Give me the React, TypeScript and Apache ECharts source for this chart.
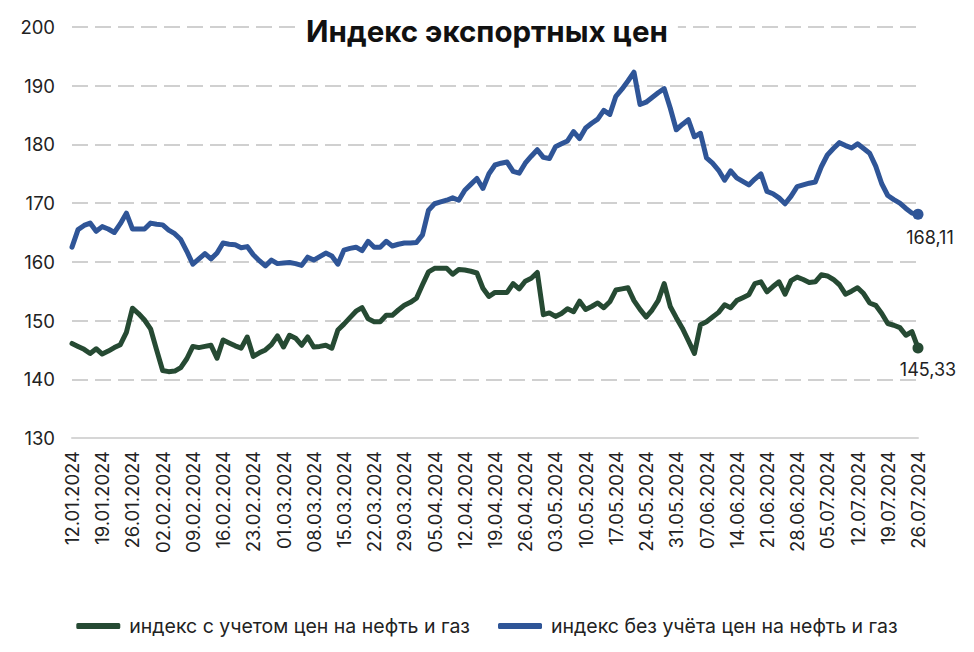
import React, { useEffect, useRef } from "react";
import * as echarts from "echarts";

const START_DATE = "2024-01-12";
const END_DATE = "2024-07-26";

function businessDays(start: string, end: string): string[] {
  const out: string[] = [];
  const d = new Date(start + "T00:00:00Z");
  const e = new Date(end + "T00:00:00Z");
  while (d.getTime() <= e.getTime()) {
    const wd = d.getUTCDay();
    if (wd !== 0 && wd !== 6) {
      const dd = String(d.getUTCDate()).padStart(2, "0");
      const mm = String(d.getUTCMonth() + 1).padStart(2, "0");
      out.push(`${dd}.${mm}.${d.getUTCFullYear()}`);
    }
    d.setUTCDate(d.getUTCDate() + 1);
  }
  return out;
}

const categories = businessDays(START_DATE, END_DATE);

const withOilGas = [
  146.1, 145.6, 145.1, 144.4, 145.2, 144.3, 144.8, 145.4, 145.9, 148.0,
  152.1, 151.2, 150.1, 148.6, 145.0, 141.5, 141.3, 141.4, 142.0, 143.5,
  145.6, 145.4, 145.6, 145.8, 143.6, 146.7, 146.2, 145.7, 145.3, 147.2,
  143.9, 144.5, 145.0, 145.9, 147.4, 145.5, 147.5, 147.0, 145.8, 147.2,
  145.5, 145.6, 145.8, 145.3, 148.4, 149.4, 150.5, 151.6, 152.2, 150.3,
  149.8, 149.8, 150.9, 150.9, 151.8, 152.6, 153.1, 153.8, 156.1, 158.3,
  158.9, 158.9, 158.9, 157.9, 158.7, 158.6, 158.4, 158.1, 155.5, 154.1,
  154.8, 154.8, 154.8, 156.3, 155.4, 156.7, 157.2, 158.2, 151.0, 151.3,
  150.7, 151.2, 152.0, 151.5, 153.3, 151.9, 152.4, 153.0, 152.2, 153.2,
  155.2, 155.4, 155.6, 153.4, 151.9, 150.6, 151.8, 153.4, 156.3, 152.4,
  150.5, 148.7, 146.6, 144.4, 149.3, 149.8, 150.6, 151.4, 152.7, 152.2,
  153.4, 153.9, 154.4, 156.3, 156.6, 154.9, 155.8, 156.6, 154.5, 156.8,
  157.4, 157.0, 156.5, 156.6, 157.8, 157.6, 157.0, 156.1, 154.5, 155.0,
  155.6, 154.6, 153.0, 152.6, 151.2, 149.5, 149.2, 148.8, 147.5, 148.1,
  145.33,
];

const withoutOilGas = [
  162.5, 165.5, 166.2, 166.6, 165.2, 166.0, 165.6, 165.0, 166.5, 168.3,
  165.6, 165.6, 165.6, 166.6, 166.4, 166.3, 165.4, 164.8, 163.8, 161.8,
  159.6, 160.5, 161.4, 160.5, 161.5, 163.2, 163.0, 162.9, 162.4, 162.6,
  161.2, 160.2, 159.3, 160.3, 159.7, 159.8, 159.9, 159.7, 159.4, 160.8,
  160.3, 160.9, 161.5, 161.0, 159.6, 162.0, 162.3, 162.5, 161.9, 163.5,
  162.5, 162.5, 163.5, 162.7, 163.0, 163.2, 163.2, 163.3, 164.6, 168.8,
  169.9, 170.2, 170.5, 170.9, 170.5, 172.2, 173.2, 174.2, 172.5, 175.0,
  176.5, 176.8, 177.0, 175.4, 175.1, 176.8, 178.0, 179.1, 177.8, 177.6,
  179.6, 180.1, 180.6, 182.2, 181.0, 182.8, 183.6, 184.3, 185.8, 185.1,
  188.2, 189.4, 190.8, 192.3, 186.8, 187.2, 188.0, 188.8, 189.5, 186.2,
  182.5, 183.4, 184.2, 181.3, 181.9, 177.7, 176.8, 175.6, 173.9, 175.5,
  174.3, 173.7, 173.1, 174.1, 175.0, 172.0, 171.6, 170.9, 169.9, 171.2,
  172.8, 173.1, 173.4, 173.6, 176.2, 178.2, 179.3, 180.3, 179.8, 179.4,
  180.1, 179.3, 178.5, 176.3, 173.3, 171.3, 170.6, 170.0, 169.1, 168.3,
  168.11,
];

const seriesNames = [
  "индекс с учетом цен на нефть и газ",
  "индекс без учёта цен на нефть и газ",
];
const titleText = "Индекс экспортных цен";

const GREEN = "#264a33";
const BLUE = "#2f5597";
const FONT = "Inter";

const fmt = (v: number) => v.toFixed(2).replace(".", ",");

export default function App() {
  const ref = useRef<HTMLDivElement>(null);
  useEffect(() => {
    if (!ref.current) return;
    const chart = echarts.init(ref.current, undefined, { renderer: "svg" });
    const lastIdx = categories.length - 1;
    const mkSeries = (name: string, data: number[], color: string, labelOffset: number[]) => ({
      name,
      type: "line",
      data,
      showSymbol: false,
      symbol: "none",
      lineStyle: { color, width: 5, cap: "round", join: "round" },
      itemStyle: { color },
      markPoint: {
        symbol: "circle",
        symbolSize: 11,
        itemStyle: { color },
        label: {
          show: true,
          position: "bottom",
          offset: labelOffset,
          color: "#222",
          fontFamily: FONT,
          fontSize: 18,
          formatter: (p: any) => fmt(p.value),
        },
        data: [{ coord: [categories[lastIdx], data[lastIdx]], value: data[lastIdx] }],
      },
    });
    chart.setOption({
      animation: false,
      backgroundColor: "#fff",
      title: {
        text: titleText,
        left: "center",
        top: 12,
        backgroundColor: "#fff",
        padding: [4, 10],
        textStyle: { fontFamily: FONT, fontWeight: "bold", fontSize: 29.5, color: "#111" },
      },
      legend: {
        left: "center",
        top: 611,
        itemGap: 28,
        itemWidth: 44,
        itemHeight: 6,
        icon: "roundRect",
        textStyle: { fontFamily: FONT, fontSize: 19.5, color: "#222", padding: [0, 0, 0, 4] },
        data: seriesNames,
      },
      grid: { left: 72, right: 56, top: 27, bottom: 214, containLabel: false },
      xAxis: {
        type: "category",
        data: categories,
        boundaryGap: false,
        axisLine: { show: true, lineStyle: { color: "#d6d6d6", width: 2 } },
        axisTick: { show: false },
        axisLabel: {
          interval: (i: number) => i % 5 === 0,
          rotate: 90,
          margin: 13,
          fontFamily: FONT,
          fontSize: 18.5,
          color: "#222",
        },
        splitLine: { show: false },
      },
      yAxis: {
        type: "value",
        min: 130,
        max: 200,
        interval: 10,
        axisLine: { show: false },
        axisTick: { show: false },
        axisLabel: { margin: 17, fontFamily: FONT, fontSize: 18.5, color: "#222" },
        splitLine: { lineStyle: { color: "#d0d0d0", width: 2, type: [16, 7] } },
      },
      series: [
        mkSeries(seriesNames[0], withOilGas, GREEN, [10, 2]),
        mkSeries(seriesNames[1], withoutOilGas, BLUE, [12, 4]),
      ],
    });
    return () => chart.dispose();
  }, []);
  return (
    <div
      ref={ref}
      style={{ position: "fixed", left: 0, top: 0, width: 974, height: 652, background: "#fff" }}
    />
  );
}
